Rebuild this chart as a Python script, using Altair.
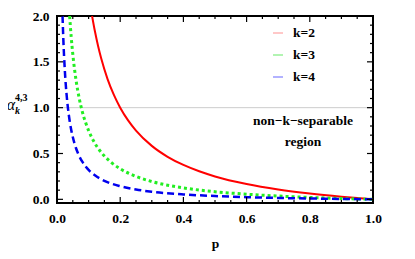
import altair as alt
import pandas as pd

# --- data ---
p_k2 = [0.111, 0.12, 0.13, 0.14, 0.16, 0.18, 0.2, 0.225, 0.25, 0.3, 0.35, 0.4, 0.45, 0.5, 0.6, 0.7, 0.8, 0.9, 1.0]
a_k2 = [2.0, 1.833, 1.673, 1.536, 1.312, 1.139, 1.0, 0.861, 0.75, 0.583, 0.464, 0.375, 0.306, 0.25, 0.167, 0.107, 0.0625, 0.028, 0.0]

p_k3 = [0.04, 0.045, 0.05, 0.06, 0.07, 0.08, 0.09, 0.1, 0.12, 0.14, 0.17, 0.2, 0.25, 0.3, 0.4, 0.5, 0.6, 0.7, 0.8, 0.9, 1.0]
a_k3 = [2.0, 1.769, 1.583, 1.306, 1.107, 0.958, 0.843, 0.75, 0.611, 0.512, 0.407, 0.333, 0.25, 0.194, 0.125, 0.083, 0.056, 0.036, 0.021, 0.009, 0.0]

p_k4 = [0.0175, 0.02, 0.025, 0.03, 0.035, 0.04, 0.05, 0.06, 0.07, 0.08, 0.1, 0.12, 0.15, 0.2, 0.25, 0.3, 0.4, 0.5, 0.6, 0.7, 0.8, 0.9, 1.0]
a_k4 = [2.0, 1.75, 1.393, 1.155, 0.985, 0.857, 0.679, 0.56, 0.474, 0.411, 0.321, 0.262, 0.202, 0.143, 0.107, 0.083, 0.054, 0.036, 0.024, 0.015, 0.009, 0.004, 0.0]

legend_labels = ["k=2", "k=3", "k=4"]
x_major = [0.0, 0.2, 0.4, 0.6, 0.8, 1.0]
x_minor = [0.05, 0.1, 0.15, 0.25, 0.3, 0.35, 0.45, 0.5, 0.55, 0.65, 0.7, 0.75, 0.85, 0.9, 0.95]
y_major = [0.0, 0.5, 1.0, 1.5, 2.0]
y_minor = [0.1, 0.2, 0.3, 0.4, 0.6, 0.7, 0.8, 0.9, 1.1, 1.2, 1.3, 1.4, 1.6, 1.7, 1.8, 1.9]
threshold = [1.0]

W, H = 316, 187
FONT = "'Liberation Serif', 'DejaVu Serif', serif"
FS = 13.5

xscale = alt.Scale(domain=[0, 1], nice=False)
yscale = alt.Scale(domain=[-0.04, 2.0], nice=False)

xaxis = alt.Axis(values=x_major, format=".1f", ticks=False, domain=False, grid=False,
                 labelFlush=False, labelOverlap=False,
                 labelFont=FONT, labelFontWeight="bold", labelFontSize=FS, labelColor="black",
                 labelPadding=8, title="p", titleFont=FONT, titleFontWeight="bold",
                 titleFontSize=FS, titleColor="black", titlePadding=12)
yaxis = alt.Axis(values=y_major, format=".1f", ticks=False, domain=False, grid=False,
                 labelFlush=False, labelOverlap=False,
                 labelFont=FONT, labelFontWeight="bold", labelFontSize=FS, labelColor="black",
                 labelPadding=8, title=None)

X = lambda f: alt.X(f, scale=xscale, axis=xaxis, title="p")
Y = lambda f: alt.Y(f, scale=yscale, axis=yaxis, title=None)

def curve(ps, vals, **kw):
    df = pd.DataFrame({"p": ps, "a": vals})
    return alt.Chart(df).mark_line(interpolate="monotone", clip=True, **kw).encode(
        x=X("p:Q"), y=Y("a:Q"))

red = curve(p_k2, a_k2, color="#ff0000", strokeWidth=2)
green = curve(p_k3, a_k3, color="#22ee22", strokeWidth=3, strokeDash=[3, 3])
blue = curve(p_k4, a_k4, color="#0000ee", strokeWidth=2.5, strokeDash=[7, 4])

thr = alt.Chart(pd.DataFrame({"a": threshold})).mark_rule(color="#cccccc", strokeWidth=1).encode(
    y=Y("a:Q"))

def yticks(vals, length):
    d = pd.DataFrame({"a": vals})
    left = alt.Chart(d).mark_rule(color="black", strokeWidth=1.2).encode(
        y=Y("a:Q"), x=alt.value(0), x2=alt.value(length))
    right = alt.Chart(d).mark_rule(color="black", strokeWidth=1.2).encode(
        y=Y("a:Q"), x=alt.value(W - length), x2=alt.value(W))
    return [left, right]

def xticks(vals, length):
    d = pd.DataFrame({"p": vals})
    bottom = alt.Chart(d).mark_rule(color="black", strokeWidth=1.2).encode(
        x=X("p:Q"), y=alt.value(H - length), y2=alt.value(H))
    top = alt.Chart(d).mark_rule(color="black", strokeWidth=1.2).encode(
        x=X("p:Q"), y=alt.value(0), y2=alt.value(length))
    return [bottom, top]

ticks = yticks(y_major, 6) + yticks(y_minor, 3) + xticks(x_major, 6) + xticks(x_minor, 3)

# legend
leg_colors = ["#ffaaaa", "#88ee88", "#8888ff"]
leg_rows = [17, 39, 61]
legend_layers = []
for lab, col, yy in zip(legend_labels, leg_colors, leg_rows):
    d = pd.DataFrame({"label": [lab]})
    legend_layers.append(alt.Chart(d).mark_rule(color=col, strokeWidth=1.3).encode(
        x=alt.value(216), x2=alt.value(226), y=alt.value(yy)))
    legend_layers.append(alt.Chart(d).mark_text(align="left", baseline="middle", font=FONT,
                                                fontWeight="bold", fontSize=FS, color="black").encode(
        x=alt.value(236), y=alt.value(yy), text="label:N"))

region_lines = ["non\u2212k\u2212separable", "region"]
region_layers = []
for txt, yy in zip(region_lines, [105, 126]):
    region_layers.append(alt.Chart(pd.DataFrame({"t": [txt]})).mark_text(
        align="center", baseline="middle", font=FONT, fontWeight="bold", fontSize=FS, color="black").encode(
        x=alt.value(246), y=alt.value(yy), text="t:N"))

# y-axis title: alpha_k^{4,3}
ytitle = [
    alt.Chart(pd.DataFrame({"t": ["\u03b1"]})).mark_text(
        align="center", baseline="middle", font=FONT, fontStyle="italic", fontSize=16, color="black").encode(
        x=alt.value(-46), y=alt.value(89), text="t:N"),
    alt.Chart(pd.DataFrame({"t": ["k"]})).mark_text(
        align="left", baseline="middle", font=FONT, fontStyle="italic", fontWeight="bold", fontSize=10, color="black").encode(
        x=alt.value(-42), y=alt.value(95), text="t:N"),
    alt.Chart(pd.DataFrame({"t": ["4,3"]})).mark_text(
        align="left", baseline="middle", font=FONT, fontWeight="bold", fontSize=10, color="black").encode(
        x=alt.value(-42), y=alt.value(82), text="t:N"),
]

chart = alt.layer(thr, red, green, blue, *ticks, *legend_layers, *region_layers, *ytitle).properties(
    width=W, height=H,
    autosize=alt.AutoSizeParams(type="none"),
    padding={"left": 49, "top": 8, "right": 34, "bottom": 48},
    background="white",
).configure_view(stroke="black", strokeWidth=2)

chart.save("out.html", embed_options={"renderer": "svg", "actions": False})
